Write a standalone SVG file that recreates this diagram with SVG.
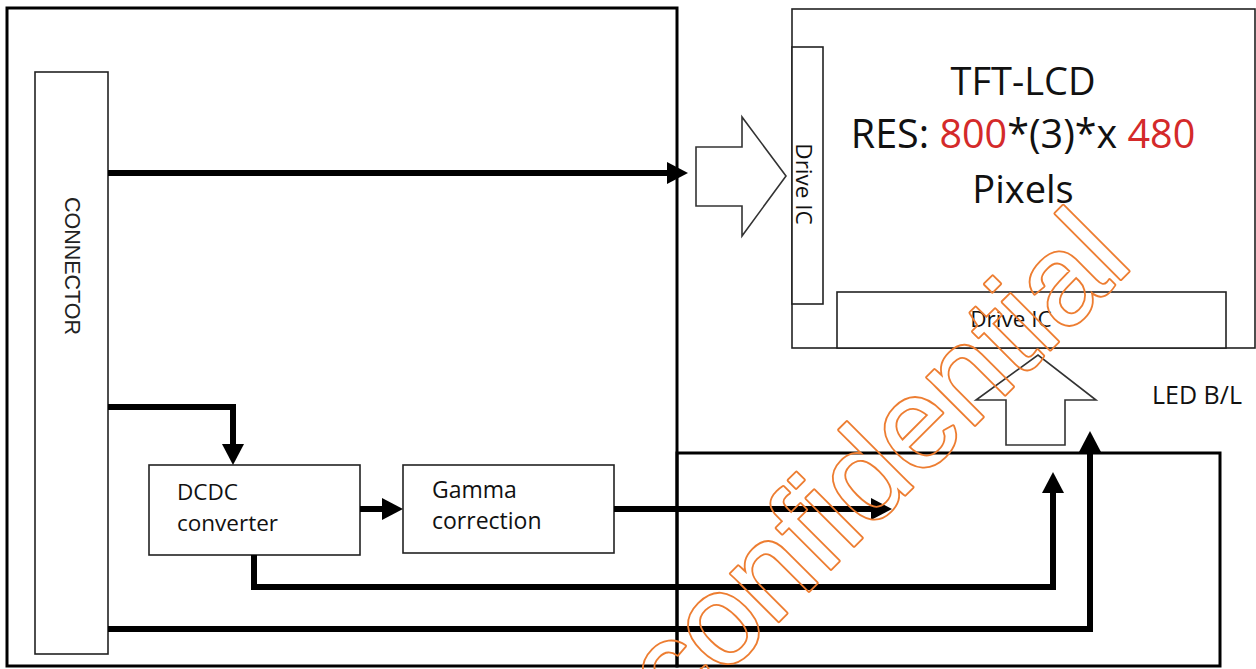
<svg xmlns="http://www.w3.org/2000/svg" width="1256" height="669" viewBox="0 0 1256 669">
  <style>
    .frame { fill: none; stroke: #000; stroke-width: 3; }
    .box { fill: #fff; stroke: #222; stroke-width: 1.6; }
    .hollow { fill: #fff; stroke: #333; stroke-width: 1.6; stroke-linejoin: miter; }
    .wire { fill: none; stroke: #000; stroke-width: 6; stroke-linejoin: miter; }
    .t { font-family: "Open Sans", "Liberation Sans", sans-serif; fill: #111; }
    .red { fill: #d42a2a; }
    .conn { font-family: "Liberation Sans", Arial, sans-serif; fill: #222; }
    .wmt { font-family: "Liberation Sans", Arial, sans-serif; font-size: 128px; }
  </style>
  <defs>
    <marker id="ah" markerUnits="userSpaceOnUse" markerWidth="22" markerHeight="22" viewBox="0 0 21 22" refX="0" refY="11" orient="auto">
      <path d="M0,0 L21,11 L0,22 Z" fill="#000"/>
    </marker>
    <mask id="wmask" maskUnits="userSpaceOnUse" x="0" y="0" width="1256" height="669">
      <rect x="0" y="0" width="1256" height="669" fill="#fff"/>
      <text class="wmt" fill="#000" transform="translate(677,723) rotate(-45)">confidential</text>
    </mask>
  </defs>
  <rect width="1256" height="669" fill="#fff"/>

  <g id="main-board">
    <rect class="frame" x="7" y="8" width="670" height="658"/>
  </g>
  <g id="backlight-board">
    <rect class="frame" x="677" y="453" width="543" height="213"/>
  </g>

  <g id="connector">
    <rect class="box" x="35" y="72" width="73" height="582"/>
    <text class="conn" font-size="21.5" text-anchor="middle" transform="translate(65,266) rotate(90)">CONNECTOR</text>
  </g>

  <g id="dcdc">
    <rect class="box" x="149" y="465" width="211" height="90"/>
    <text class="t" font-size="22.5" x="177" y="500">DCDC</text>
    <text class="t" font-size="22.5" x="177" y="531">converter</text>
  </g>

  <g id="gamma">
    <rect class="box" x="403" y="465" width="211" height="88"/>
    <text class="t" font-size="23" x="432" y="498">Gamma</text>
    <text class="t" font-size="23" x="432" y="529">correction</text>
  </g>

  <g id="tft-lcd">
    <rect class="box" x="792" y="9" width="463" height="339"/>
    <text class="t" font-size="38" text-anchor="middle" x="1023" y="95">TFT-LCD</text>
    <text class="t" font-size="39.5" text-anchor="middle" x="1023" y="148">RES: <tspan class="red">800</tspan>*(3)*x <tspan class="red">480</tspan></text>
    <text class="t" font-size="38" text-anchor="middle" x="1023" y="203">Pixels</text>
  </g>

  <g id="drive-ic-left">
    <rect class="box" x="792" y="47" width="31" height="257"/>
    <text class="t" font-size="22.5" text-anchor="middle" transform="translate(796,184) rotate(90)">Drive IC</text>
  </g>

  <g id="drive-ic-bottom">
    <rect class="box" x="837" y="292" width="389" height="56"/>
    <text class="t" font-size="22.5" text-anchor="middle" x="1011" y="327">Drive IC</text>
  </g>

  <g id="led-bl">
    <text class="t" font-size="25" x="1152" y="404">LED B/L</text>
  </g>

  <g id="block-arrows">
    <polygon class="hollow" points="696,147 742,147 742,117 786,176 742,236 742,206 696,206"/>
    <polygon class="hollow" points="1006,445 1006,400 976,400 1038,355 1096,400 1065,400 1065,445"/>
  </g>

  <g id="connectors">
    <path class="wire" d="M108,173 H667" marker-end="url(#ah)"/>
    <path class="wire" d="M108,407 H233 V444" marker-end="url(#ah)"/>
    <path class="wire" d="M360,509 H382" marker-end="url(#ah)"/>
    <path class="wire" d="M614,509 H871" marker-end="url(#ah)"/>
    <path class="wire" d="M254,555 V587 H1053 V493" marker-end="url(#ah)"/>
    <path class="wire" d="M108,629 H1090 V452" marker-end="url(#ah)"/>
  </g>

  <g id="watermark" mask="url(#wmask)">
    <text class="wmt" fill="#ed7d31" stroke="#ed7d31" stroke-width="3.6" stroke-linejoin="round" transform="translate(677,723) rotate(-45)">confidential</text>
  </g>
</svg>
